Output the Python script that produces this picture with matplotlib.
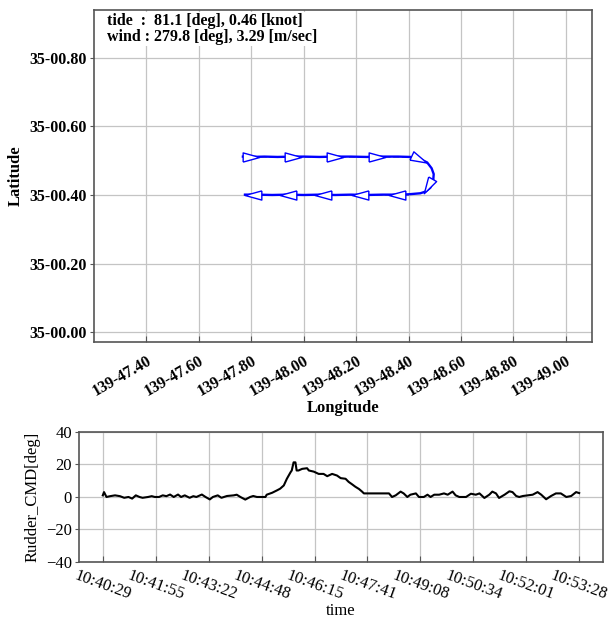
import datetime
import matplotlib
matplotlib.use('Agg')
import matplotlib.pyplot as plt
from matplotlib.markers import MarkerStyle
from matplotlib.transforms import Affine2D
from matplotlib.ticker import FuncFormatter

plt.rcParams['font.family'] = ['Liberation Serif', 'DejaVu Serif']
plt.rcParams['axes.unicode_minus'] = True

# --- track (minutes part of lon 139-xx.xx / lat 35-xx.xx) ---
track_lon = [47.768, 47.80, 47.85, 47.90, 47.96, 48.00, 48.06, 48.12, 48.18, 48.24,
             48.30, 48.36, 48.407, 48.44, 48.471, 48.488, 48.496, 48.494, 48.483,
             48.465, 48.445, 48.40, 48.369, 48.30, 48.24, 48.18, 48.12, 48.06,
             48.00, 47.94, 47.88, 47.82, 47.776]
track_lat = [0.512, 0.511, 0.512, 0.511, 0.512, 0.512, 0.511, 0.512, 0.512, 0.511,
             0.512, 0.512, 0.511, 0.506, 0.495, 0.478, 0.461, 0.440, 0.421,
             0.410, 0.405, 0.402, 0.401, 0.401, 0.400, 0.401, 0.400, 0.401,
             0.400, 0.401, 0.400, 0.401, 0.401]

# planned route (grey, under the track)
route_lon = [47.768, 48.40, float('nan'), 48.40, 47.768]
route_lat = [0.512, 0.512, float('nan'), 0.401, 0.401]

arrow_lon = [47.80, 47.96, 48.12, 48.28, 48.44, 48.475, 48.356, 48.216, 48.074, 47.94, 47.806]
arrow_lat = [0.511, 0.512, 0.512, 0.512, 0.506, 0.425, 0.401, 0.401, 0.400, 0.401, 0.401]
arrow_dir = [0, 0, 0, 0, -25, -120, 180, 180, 180, 180, 180]

lon_ticks = [47.40, 47.60, 47.80, 48.00, 48.20, 48.40, 48.60, 48.80, 49.00]
lat_ticks = [0.00, 0.20, 0.40, 0.60, 0.80]

info_text = 'tide  :  81.1 [deg], 0.46 [knot]\nwind : 279.8 [deg], 3.29 [m/sec]'

# --- rudder command ---
t_start = datetime.datetime(2020, 1, 1, 10, 40, 29)
rud_t = [0, 2, 6, 12, 20, 28, 35, 42, 48, 54, 60, 65, 74, 80, 85, 92, 98, 104, 110, 116,
         123, 128, 134, 142, 148, 153, 162, 168, 175, 180, 188, 194,
         203, 214, 219, 225, 233, 241, 246, 252, 266, 268, 277, 285, 290, 296, 301, 304,
         307, 309, 312, 315, 317, 320, 326, 334, 337, 345, 353, 361, 367, 375, 383, 389,
         397, 402,
         408, 413, 419, 424, 427, 468, 473, 479, 487, 492, 498, 503, 512, 517, 525, 531,
         536, 542, 550, 558, 564, 572, 577, 583, 594, 602,
         610, 616, 624, 632, 637, 643, 648, 657, 665, 670, 676, 681, 687, 695, 703, 711,
         717, 725, 733, 741, 749, 758, 766, 774, 779]
rud_v = [1, 3, 0, 0.5, 1, 0.5, -0.5, 0, -1, 1, 0, -0.5, 0, 0.5, 0, 0, 1, 0.5, 1.5, 0,
         1.5, 0, 1, -0.5, 0.5, 0, 1.5, 0, -1.5, 0, 1, -0.5,
         0.6, 1, 1.4, 0, -1.6, 0, 0.6, 0, 0, 1.4, 2.6, 4.1, 5.1, 7.1, 11.2, 13.2,
         15.2, 16.3, 21.3, 21.3, 16.3, 16.3, 17.3, 17.7, 16.3, 15.6, 14.2, 14.2, 12.8, 14.2, 13.2, 11.6,
         11.2, 9.3,
         7.7, 6.3, 4.9, 3.3, 2.2, 2.2, 0, 1, 3.3, 2.2, 0, 1.4, 2.2, 0, 0, 1.4,
         0, 1.4, 1.4, 2.2, 1.4, 3.3, 1, 0, 0, 2,
         1.4, 2.2, -0.6, 1.4, 3.3, 2.2, -0.6, 1.4, 3.5, 3, 0.6, 0, 0.6, 1, 1.4, 3,
         1.4, -1.4, 0.6, 2.2, 2.2, 0, 0.6, 3, 2.4]

grid_kw = dict(color='#c4c4c4', linewidth=0.9)
spine_col = '#555555'

fig = plt.figure(figsize=(6.09, 6.22), dpi=100)

# ---------------- top: track ----------------
ax = fig.add_axes([0.1544, 0.4502, 0.8177, 0.5338])
ax.plot(route_lon, route_lat, color='#888888', linestyle='--', linewidth=1.2, zorder=2)
ax.plot(track_lon, track_lat, color='#0000ff', linewidth=1.7, zorder=3)

tri = [(-1.0, -0.55), (1.0, 0.0), (-1.0, 0.55), (-1.0, -0.55)]
for lo, la, d in zip(arrow_lon, arrow_lat, arrow_dir):
    m = MarkerStyle(tri, transform=Affine2D().rotate_deg(d))
    ax.plot([lo], [la], marker=m, markersize=12, markerfacecolor='white',
            markeredgecolor='#0000ff', markeredgewidth=1.0, linestyle='none', zorder=4)

ax.set_xlim(47.20, 49.10)
ax.set_ylim(-0.029, 0.94)
ax.set_xticks(lon_ticks)
ax.set_yticks(lat_ticks)
ax.xaxis.set_major_formatter(FuncFormatter(lambda v, p: f'139-{v:05.2f}'))
ax.yaxis.set_major_formatter(FuncFormatter(lambda v, p: f'35-{v:05.2f}'))
for lab in ax.get_xticklabels():
    lab.set_rotation(30)
    lab.set_ha('right')
    lab.set_rotation_mode('anchor')
    lab.set_fontweight('bold')
    lab.set_fontsize(11.5)
for lab in ax.get_yticklabels():
    lab.set_fontweight('bold')
    lab.set_fontsize(11.5)
ax.tick_params(axis='x', direction='in', length=4, pad=8, color=spine_col)
ax.tick_params(axis='y', direction='out', length=3, pad=2, color=spine_col)
ax.grid(True, **grid_kw)
ax.set_axisbelow(True)
for s in ax.spines.values():
    s.set_color(spine_col)
    s.set_linewidth(1.2)
ax.set_xlabel('Longitude', fontsize=12, fontweight='bold', labelpad=0)
ax.set_ylabel('Latitude', fontsize=12, fontweight='bold', labelpad=4)
ax.text(0.026, 0.99, info_text, transform=ax.transAxes, va='top', ha='left',
        fontsize=11.5, fontweight='bold', linespacing=0.95,
        bbox=dict(facecolor='white', edgecolor='none', pad=1))

# ---------------- bottom: rudder ----------------
ax2 = fig.add_axes([0.1297, 0.0965, 0.8604, 0.209])
ax2.plot(rud_t, rud_v, color='black', linewidth=1.5)
ax2.set_ylim(-40, 40)
ax2.set_yticks([-40, -20, 0, 20, 40])
ax2.margins(x=0.05)
time_ticks = [rud_t[-1] * i / 9 for i in range(10)]
ax2.set_xticks(time_ticks)
ax2.set_xticklabels([(t_start + datetime.timedelta(seconds=int(s))).strftime('%H:%M:%S')
                     for s in time_ticks], rotation=-20, ha='center', fontsize=12)
for lab in ax2.get_yticklabels():
    lab.set_fontsize(12)
ax2.tick_params(axis='x', direction='in', length=4, pad=4, color=spine_col)
ax2.tick_params(axis='y', direction='out', length=3, pad=2, color=spine_col)
ax2.grid(True, **grid_kw)
ax2.set_axisbelow(True)
for s in ax2.spines.values():
    s.set_color(spine_col)
    s.set_linewidth(1.2)
ax2.set_xlabel('time', fontsize=12, labelpad=0)
ax2.set_ylabel('Rudder_CMD[deg]', fontsize=12, labelpad=4)

fig.savefig('out.png', dpi=100)
